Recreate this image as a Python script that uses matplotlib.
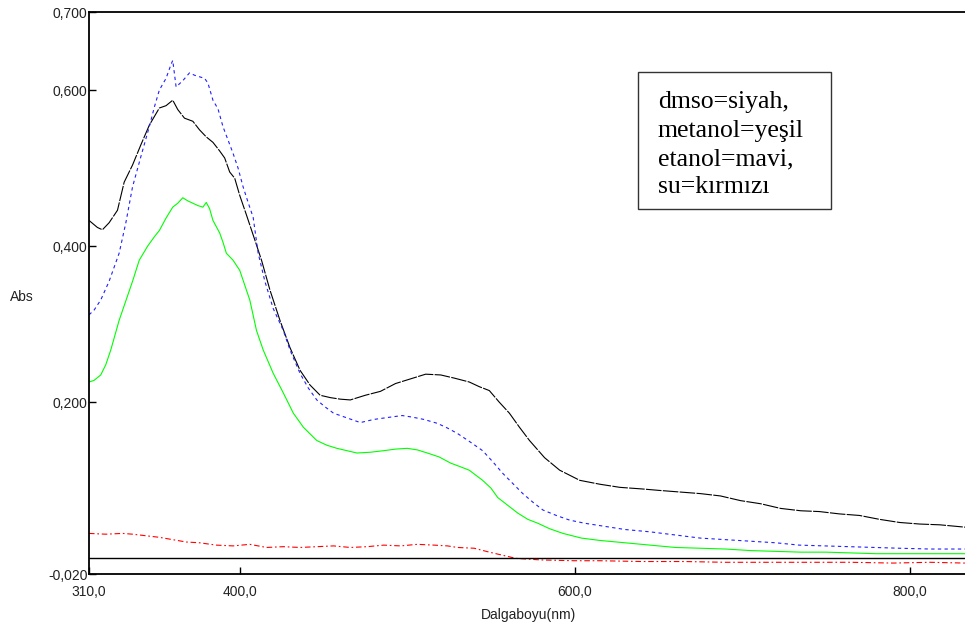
import numpy as np
import matplotlib
matplotlib.use('Agg')
import matplotlib.pyplot as plt
from matplotlib.patches import Rectangle

# ── Data (wavelength nm, absorbance) ─────────────────────────────────
dmso_nm  = [310, 315, 318, 322, 327, 331, 336, 341, 346, 352, 356, 360, 363, 367,
            372, 376, 380, 384, 388, 391, 394, 397, 400, 404, 409, 413, 418, 424,
            430, 436, 442, 448, 454, 460, 466, 475, 484, 493, 502, 511, 520, 528,
            537, 543, 549, 555, 561, 567, 573, 582, 591, 603, 615, 627, 640, 651,
            663, 675, 687, 699, 711, 723, 735, 746, 758, 770, 782, 794, 806, 818, 833]
dmso_abs = [0.433, 0.424, 0.421, 0.430, 0.446, 0.482, 0.504, 0.530, 0.555, 0.577,
            0.580, 0.587, 0.575, 0.564, 0.560, 0.549, 0.540, 0.533, 0.522, 0.513,
            0.495, 0.487, 0.465, 0.440, 0.408, 0.382, 0.344, 0.305, 0.270, 0.241,
            0.222, 0.209, 0.206, 0.204, 0.203, 0.209, 0.214, 0.224, 0.230, 0.236,
            0.235, 0.231, 0.226, 0.220, 0.215, 0.200, 0.186, 0.168, 0.151, 0.129,
            0.113, 0.100, 0.095, 0.091, 0.089, 0.087, 0.085, 0.083, 0.080, 0.074,
            0.070, 0.064, 0.061, 0.060, 0.057, 0.055, 0.050, 0.046, 0.044, 0.043, 0.040]

etanol_nm  = [310, 313, 317, 322, 328, 332, 336, 341, 346, 349, 352, 356, 359, 360,
              362, 366, 370, 373, 376, 379, 381, 384, 387, 390, 393, 396, 399, 402,
              405, 408, 411, 415, 420, 426, 430, 436, 441, 446, 451, 456, 464, 472,
              480, 490, 497, 503, 510, 518, 524, 530, 537, 545, 551, 557, 563, 569,
              575, 581, 589, 597, 606, 615, 630, 645, 660, 675, 690, 705, 720, 734,
              749, 764, 779, 794, 812, 833]
etanol_abs = [0.312, 0.318, 0.331, 0.355, 0.391, 0.430, 0.476, 0.515, 0.553, 0.578,
              0.600, 0.615, 0.633, 0.638, 0.604, 0.612, 0.622, 0.619, 0.617, 0.615,
              0.609, 0.587, 0.576, 0.553, 0.536, 0.519, 0.500, 0.476, 0.456, 0.437,
              0.391, 0.355, 0.320, 0.292, 0.267, 0.237, 0.218, 0.203, 0.194, 0.186,
              0.180, 0.174, 0.178, 0.181, 0.183, 0.181, 0.178, 0.173, 0.167, 0.160,
              0.150, 0.138, 0.124, 0.109, 0.096, 0.083, 0.072, 0.062, 0.055, 0.049,
              0.045, 0.042, 0.037, 0.034, 0.030, 0.026, 0.024, 0.022, 0.020, 0.017,
              0.016, 0.015, 0.014, 0.013, 0.012, 0.012]

metanol_nm  = [310, 313, 317, 320, 323, 328, 332, 336, 340, 345, 349, 352, 356, 360,
               363, 366, 369, 372, 375, 378, 380, 382, 384, 386, 388, 390, 392, 396,
               400, 403, 406, 410, 414, 420, 426, 432, 438, 446, 452, 458, 464, 470,
               478, 486, 493, 500, 506, 512, 519, 526, 531, 537, 545, 550, 554, 560,
               566, 572, 578, 585, 593, 604, 615, 630, 645, 660, 675, 690, 705, 720,
               735, 750, 765, 780, 795, 812, 833]
metanol_abs = [0.226, 0.228, 0.235, 0.248, 0.267, 0.305, 0.330, 0.355, 0.382, 0.400,
               0.412, 0.420, 0.436, 0.450, 0.455, 0.462, 0.458, 0.455, 0.452, 0.450,
               0.456, 0.448, 0.433, 0.425, 0.417, 0.405, 0.391, 0.382, 0.369, 0.350,
               0.331, 0.292, 0.267, 0.237, 0.212, 0.186, 0.168, 0.151, 0.145, 0.141,
               0.138, 0.135, 0.136, 0.138, 0.140, 0.141, 0.139, 0.135, 0.130, 0.122,
               0.118, 0.113, 0.100, 0.090, 0.078, 0.068, 0.058, 0.050, 0.045, 0.038,
               0.032, 0.026, 0.023, 0.020, 0.017, 0.014, 0.013, 0.012, 0.010, 0.009,
               0.008, 0.008, 0.007, 0.006, 0.006, 0.006, 0.006]

su_nm  = [310, 320, 330, 336, 344, 352, 360, 368, 376, 386, 396, 406, 416, 426, 436,
          446, 456, 466, 476, 486, 496, 506, 516, 524, 530, 540, 549, 557, 565,
          580, 600, 615, 640, 665, 690, 715, 740, 765, 790, 812, 833]
su_abs = [0.032, 0.031, 0.032, 0.031, 0.029, 0.027, 0.024, 0.021, 0.020, 0.017,
          0.016, 0.018, 0.014, 0.015, 0.014, 0.015, 0.016, 0.014, 0.015, 0.017,
          0.016, 0.018, 0.017, 0.016, 0.014, 0.013, 0.008, 0.004, 0.000, -0.002,
          -0.003, -0.003, -0.004, -0.004, -0.005, -0.005, -0.005, -0.005, -0.006,
          -0.005, -0.006]

YTICKS = [0.7, 0.6, 0.4, 0.2, -0.02]
YLABELS = ['0,700', '0,600', '0,400', '0,200', '-0,020']
XTICKS = [310, 400, 600, 800]
XLABELS = ['310,0', '400,0', '600,0', '800,0']
LEGEND_LINES = ['dmso=siyah,', 'metanol=yeşil', 'etanol=mavi,', 'su=kırmızı']

plt.rcParams['font.family'] = ['Liberation Sans', 'DejaVu Sans']

fig = plt.figure(figsize=(9.65, 6.31), dpi=100)
ax = fig.add_axes([89/965, 1 - 574/631, 1 - 89/965, (574 - 12)/631])

ax.plot(dmso_nm, dmso_abs, color='black', lw=0.8, ls=(0, (14, 1.2)))
ax.plot(etanol_nm, etanol_abs, color='#2020ff', lw=0.8, ls=(0, (3, 3)))
ax.plot(metanol_nm, metanol_abs, color='#00ff00', lw=0.8)
ax.plot(su_nm, su_abs, color='#ff0000', lw=0.8, ls=(0, (5, 2.5, 1.5, 2.5)))
ax.axhline(0, color='black', lw=1.0)

ax.set_xlim(310, 833)
ax.set_ylim(-0.02, 0.7)
ax.set_xticks(XTICKS)
ax.set_xticklabels(XLABELS, fontsize=10, color='#222222')
ax.set_yticks(YTICKS)
ax.set_yticklabels(YLABELS, fontsize=10, color='#222222')
ax.tick_params(direction='in', length=5, width=1)
ax.tick_params(axis='x', pad=8)
ax.tick_params(axis='y', pad=1)
for s in ['left', 'top', 'bottom']:
    ax.spines[s].set_linewidth(1.3)
ax.spines['right'].set_visible(False)

fig.text(10/965, 1 - 297/631, 'Abs', fontsize=10, va='center', ha='left', color='#222222')
fig.text(528/965, 1 - 615/631, 'Dalgaboyu(nm)', fontsize=10, va='center', ha='center',
         color='#222222')

# legend box drawn as a text box
fig.patches.append(Rectangle((638/965, 1 - 209/631), (831 - 638)/965, (209 - 72)/631,
                             transform=fig.transFigure, facecolor='white',
                             edgecolor='#333333', lw=1.0))
for i, line in enumerate(LEGEND_LINES):
    fig.text(658/965, 1 - (108 + i*28.5)/631, line, fontsize=18.5,
             family=['Liberation Serif', 'DejaVu Serif'], va='baseline', ha='left')

plt.savefig('out.png', dpi=100)
